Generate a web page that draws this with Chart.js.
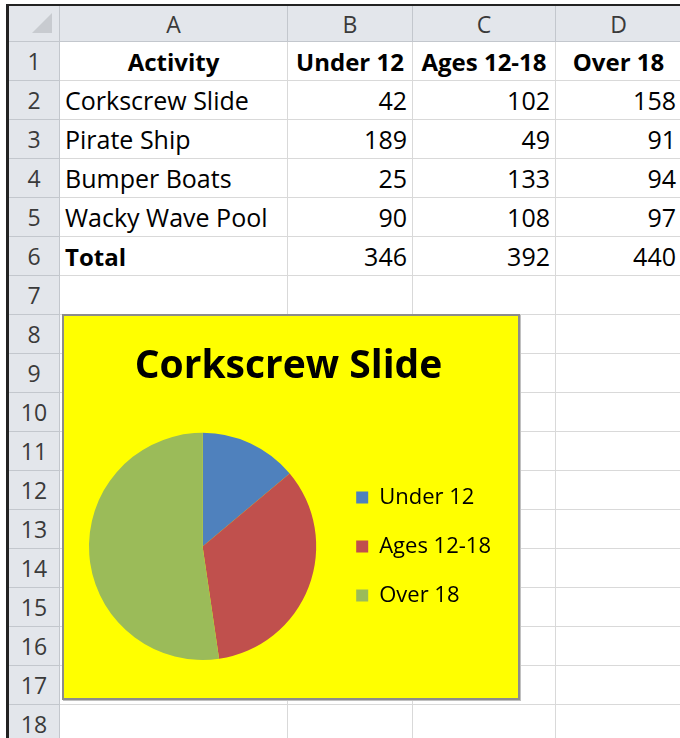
<!DOCTYPE html>
<html>
<head>
<meta charset="utf-8">
<script src="https://cdn.jsdelivr.net/npm/chart.js@4.4.0/dist/chart.umd.min.js"></script>
<style>
body { margin: 0; background: #fff; width: 680px; height: 738px; overflow: hidden; position: relative; font-family: "Open Sans", sans-serif; }
.cell { position: absolute; box-sizing: border-box; border-right: 1px solid #d9d9d9; border-bottom: 1px solid #d9d9d9; font-size: 25px; color: #000; white-space: nowrap; overflow: hidden; display: flex; align-items: center; padding: 0 5px; }
.hdr { background: #e3e6eb; border-right: 1px solid #c3c7cd; border-bottom: 1px solid #c3c7cd; color: #3a3a3a; justify-content: center; padding: 0; font-size: 23px; }
.bold { font-weight: bold; font-size: 24px; }
.num { justify-content: flex-end; }
.center { justify-content: center; }
#frameTop { position: absolute; left: 6px; top: 4px; width: 674px; height: 2px; background: #222; }
#frameLeft { position: absolute; left: 6px; top: 4px; width: 3px; height: 734px; background: #222; }
#corner { position: absolute; left: 32px; top: 13px; width: 20px; height: 20px; background: #c8cbd0; clip-path: polygon(100% 0, 100% 100%, 0 100%); }
#chartBox { position: absolute; left: 62px; top: 314px; width: 458px; height: 386px; box-sizing: border-box; border: 2px solid #8c8c8c; background: #ffff00; box-shadow: 1px 1px 0 #c0c0c0; }
#chartBox canvas { display: block; }
</style>
</head>
<body>
<div id="sheet"></div>
<div id="frameTop"></div>
<div id="frameLeft"></div>
<div id="corner"></div>
<div id="chartBox"><canvas id="pie" width="454" height="382"></canvas></div>
<script>
// datos de la hoja
const colLetters = ['A', 'B', 'C', 'D'];
const headers = ['Activity', 'Under 12', 'Ages 12-18', 'Over 18'];
const activities = ['Corkscrew Slide', 'Pirate Ship', 'Bumper Boats', 'Wacky Wave Pool'];
const under12 = [42, 189, 25, 90];
const ages12to18 = [102, 49, 133, 108];
const over18 = [158, 91, 94, 97];
const totals = [346, 392, 440];
const ageGroups = ['Under 12', 'Ages 12-18', 'Over 18'];
const pieColors = ['#4f81bd', '#c0504d', '#9bbb59'];

// geometria de la grilla
const colEdges = [9, 60, 288, 413, 556, 682];
const headerTop = 6, headerBottom = 42, rowH = 39, rowCount = 18;

const sheet = document.getElementById('sheet');
const addCell = (x0, x1, y0, y1, text, cls) => {
    const d = document.createElement('div');
    d.className = 'cell ' + (cls || '');
    d.style.left = x0 + 'px';
    d.style.top = y0 + 'px';
    d.style.width = (x1 - x0) + 'px';
    d.style.height = (y1 - y0) + 'px';
    d.textContent = text;
    sheet.appendChild(d);
};

const rowTop = (r) => headerBottom + (r - 1) * rowH;

// encabezados
addCell(colEdges[0], colEdges[1], headerTop, headerBottom, '', 'hdr');
colLetters.forEach((l, i) => addCell(colEdges[i + 1], colEdges[i + 2], headerTop, headerBottom, l, 'hdr'));
for (let r = 1; r <= rowCount; r++) {
    addCell(colEdges[0], colEdges[1], rowTop(r), rowTop(r) + rowH, String(r), 'hdr');
}

// contenido
const rows = [];
rows.push(headers.map((h) => ({ t: h, c: 'bold center' })));
activities.forEach((a, i) => {
    rows.push([{ t: a, c: '' }, { t: under12[i], c: 'num' }, { t: ages12to18[i], c: 'num' }, { t: over18[i], c: 'num' }]);
});
rows.push([{ t: 'Total', c: 'bold' }].concat(totals.map((t) => ({ t: t, c: 'num' }))));

for (let r = 1; r <= rowCount; r++) {
    for (let c = 0; c < 4; c++) {
        const v = rows[r - 1] ? rows[r - 1][c] : { t: '', c: '' };
        addCell(colEdges[c + 1], colEdges[c + 2], rowTop(r), rowTop(r) + rowH, String(v.t), v.c);
    }
}

// grafico de torta
const pieData = [under12[0], ages12to18[0], over18[0]];

new Chart(document.getElementById('pie'), {
    type: 'pie',
    data: {
        labels: ageGroups,
        datasets: [{
            data: pieData,
            backgroundColor: pieColors,
            borderWidth: 0
        }]
    },
    options: {
        responsive: false,
        animation: false,
        devicePixelRatio: 1,
        layout: { padding: { left: 12, right: 17, top: 17, bottom: 38 } },
        plugins: {
            title: {
                display: true,
                text: activities[0],
                color: '#000',
                font: { family: 'Open Sans', size: 39, weight: 'bold' },
                padding: { top: 10, bottom: 43 }
            },
            legend: {
                position: 'right',
                fullSize: false,
                labels: {
                    boxWidth: 12,
                    boxHeight: 12,
                    padding: 27,
                    color: '#000',
                    font: { family: 'Open Sans', size: 22 }
                }
            },
            tooltip: { enabled: false }
        }
    }
});
</script>
</body>
</html>
